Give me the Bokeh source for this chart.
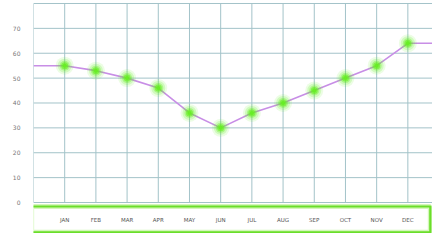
from bokeh.plotting import figure
from bokeh.models import Range1d, FixedTicker, ColumnDataSource
from bokeh.core.properties import value
from bokeh.embed import file_html
from bokeh.resources import INLINE

months = ["JAN", "FEB", "MAR", "APR", "MAY", "JUN", "JUL", "AUG", "SEP", "OCT", "NOV", "DEC"]
values = [55, 53, 50, 46, 36, 30, 36, 40, 45, 50, 55, 64]
y_ticks = [0, 10, 20, 30, 40, 50, 60, 70, 80]
y_labels = ["0", "10", "20", "30", "40", "50", "60", "70", ""]

X_END = 12.79
Y_MIN, Y_MAX = -12.46, 81.2
GRID = "#a3c3c9"

xpos = list(range(1, len(months) + 1))

p = figure(width=432, height=233, output_backend="svg", toolbar_location=None,
           x_range=Range1d(0, X_END), y_range=Range1d(Y_MIN, Y_MAX),
           min_border_left=33, min_border_right=0, min_border_top=0, min_border_bottom=0)
p.background_fill_color = "white"
p.border_fill_color = "white"
p.outline_line_color = None
p.xgrid.visible = False
p.ygrid.visible = False
p.xaxis.visible = False

ax = p.yaxis[0]
ax.ticker = FixedTicker(ticks=y_ticks[:-1])
ax.major_label_overrides = {t: l for t, l in zip(y_ticks, y_labels)}
ax.axis_line_color = None
ax.major_tick_line_color = None
ax.minor_tick_line_color = None
ax.major_label_standoff = 7
ax.major_label_text_font_size = "6px"
ax.major_label_text_color = "#777777"
ax.major_label_text_font = "DejaVu Sans"

# grid lines built from the ticks
gx = [0] + xpos
p.segment(x0=[0] * len(y_ticks), x1=[X_END] * len(y_ticks), y0=y_ticks, y1=y_ticks,
          line_color=GRID, line_width=1)
p.segment(x0=gx, x1=gx, y0=[0] * len(gx), y1=[y_ticks[-1]] * len(gx),
          line_color=GRID, line_width=1)

# green axis box
p.quad(left=[-0.06], right=[12.72], bottom=[-12.0], top=[-1.6],
       fill_color="white", line_color="#b8f28c", line_width=5, line_alpha=0.6)
p.quad(left=[-0.06], right=[12.72], bottom=[-12.0], top=[-1.6],
       fill_color=None, line_color="#6ade2a", line_width=2.2, line_join="round")

label_y = [-7.2] * len(months)
src = ColumnDataSource(dict(x=xpos, y=values, m=months, ly=label_y))
p.text(x="x", y="ly", text="m", source=src,
       text_align="center", text_baseline="middle",
       text_font=value("DejaVu Sans"), text_font_size="5.5px", text_color="#555555")

# line extended flat to the frame edges
lx = [0] + xpos + [X_END]
ly = [values[0]] + values + [values[-1]]
p.line(lx, ly, line_color="#c88ee6", line_width=1.6)

# glowing markers
for size, alpha in [(18, 0.12), (14, 0.2), (10, 0.35), (7, 0.6), (4, 0.9)]:
    p.scatter("x", "y", source=src, size=size, fill_color="#66ee22",
              fill_alpha=alpha, line_color=None)

open("out.html", "w").write(file_html(p, INLINE))
